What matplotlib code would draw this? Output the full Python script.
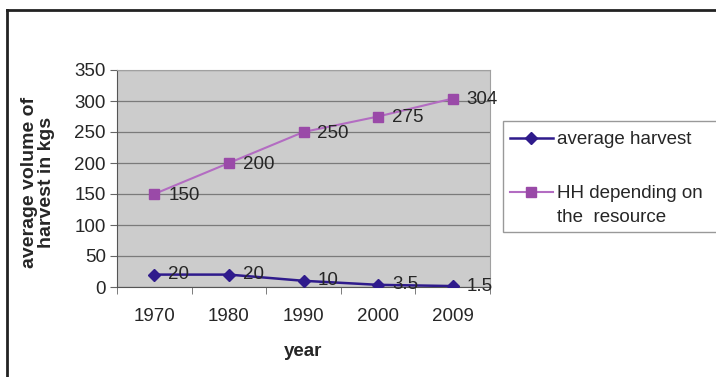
import matplotlib
matplotlib.use("Agg")
import matplotlib.pyplot as plt
from matplotlib.lines import Line2D
from matplotlib.patches import Rectangle

years = ["1970", "1980", "1990", "2000", "2009"]
avg_harvest = [20, 20, 10, 3.5, 1.5]
hh_depending = [150, 200, 250, 275, 304]
avg_labels = ["20", "20", "10", "3.5", "1.5"]
hh_labels = ["150", "200", "250", "275", "304"]
y_ticks = [0, 50, 100, 150, 200, 250, 300, 350]
legend_labels = ["average harvest", "HH depending on", "the  resource"]

plt.rcParams['font.family'] = ['Liberation Sans', 'DejaVu Sans']

W, H = 716, 377
fig = plt.figure(figsize=(W / 100, H / 100), dpi=100)
fig.patch.set_facecolor('white')

def fx(px):
    return px / W

def fy(py):
    return 1 - py / H

FS = 13.5
TC = '#262626'

ax = fig.add_axes([fx(117), fy(287), fx(490) - fx(117), fy(70) - fy(287)])
ax.set_facecolor('#cccccc')

x = list(range(len(years)))
c_avg = '#2f1b8c'
c_hh_line = '#b36cc2'
c_hh_mark = '#9a4aa8'

ax.plot(x, avg_harvest, color=c_avg, lw=1.8, marker='D', markersize=6,
        markerfacecolor=c_avg, markeredgecolor=c_avg, zorder=3)
ax.plot(x, hh_depending, color=c_hh_line, lw=1.5, marker='s', markersize=6.5,
        markerfacecolor=c_hh_mark, markeredgecolor=c_hh_mark, zorder=3)

for xi, v, t in zip(x, avg_labels and avg_harvest, avg_labels):
    ax.annotate(t, (xi, v), xytext=(10, 0), textcoords='offset points',
                va='center', ha='left', fontsize=FS, color=TC, zorder=4)
for xi, v, t in zip(x, hh_depending, hh_labels):
    ax.annotate(t, (xi, v), xytext=(10, -1), textcoords='offset points',
                va='center', ha='left', fontsize=FS, color=TC, zorder=4)

ax.set_xlim(-0.5, len(years) - 0.5)
ax.set_ylim(0, 350)
ax.set_yticks(y_ticks)
ax.set_yticklabels([str(v) for v in y_ticks], fontsize=FS, color=TC)
ax.set_xticks(x)
ax.set_xticklabels(years, fontsize=FS, color=TC)
ax.tick_params(axis='x', length=0, pad=15)
ax.set_xticks([i - 0.5 for i in range(len(years) + 1)], minor=True)
ax.tick_params(axis='x', which='minor', length=5, color='#666666', direction='out')
ax.tick_params(axis='y', length=5, color='#666666', direction='out', pad=3)

ax.grid(axis='y', color='#7a7a7a', lw=0.9)
ax.set_axisbelow(True)
for s in ['top', 'right']:
    ax.spines[s].set_color('#a0a0a0')
for s in ['left', 'bottom']:
    ax.spines[s].set_color('#555555')

fig.text(fx(38), fy(182), "average volume of\nharvest in kgs", fontsize=14, fontweight='bold',
         color=TC, rotation=90, ha='center', va='center', linespacing=1.0)
fig.text(fx(303), fy(352), "year", fontsize=FS, fontweight='bold', color=TC,
         ha='center', va='center')

# legend box
fig.patches.append(Rectangle((fx(503), fy(232)), fx(230), (232 - 121) / H,
                             transform=fig.transFigure, facecolor='white',
                             edgecolor='#999999', lw=1.0, clip_on=False))
# legend entries
fig.add_artist(Line2D([fx(510), fx(553)], [fy(138), fy(138)], color=c_avg, lw=1.8,
                      transform=fig.transFigure))
fig.add_artist(Line2D([fx(531)], [fy(138)], color=c_avg, marker='D', markersize=6,
                      markerfacecolor=c_avg, markeredgecolor=c_avg, transform=fig.transFigure))
fig.add_artist(Line2D([fx(510), fx(553)], [fy(192), fy(192)], color=c_hh_line, lw=1.5,
                      transform=fig.transFigure))
fig.add_artist(Line2D([fx(531)], [fy(192)], color=c_hh_mark, marker='s', markersize=6.5,
                      markerfacecolor=c_hh_mark, markeredgecolor=c_hh_mark,
                      transform=fig.transFigure))
fig.text(fx(557), fy(139), legend_labels[0], fontsize=FS, color=TC, ha='left', va='center')
fig.text(fx(557), fy(193), legend_labels[1], fontsize=FS, color=TC, ha='left', va='center')
fig.text(fx(557), fy(217), legend_labels[2], fontsize=FS, color=TC, ha='left', va='center')

# figure border (top and left)
fig.add_artist(Line2D([fx(7), 1], [fy(10), fy(10)], color='#222222', lw=2,
                      transform=fig.transFigure))
fig.add_artist(Line2D([fx(7), fx(7)], [0, fy(10)], color='#222222', lw=2,
                      transform=fig.transFigure))

fig.savefig("out.png", dpi=100, facecolor='white')
